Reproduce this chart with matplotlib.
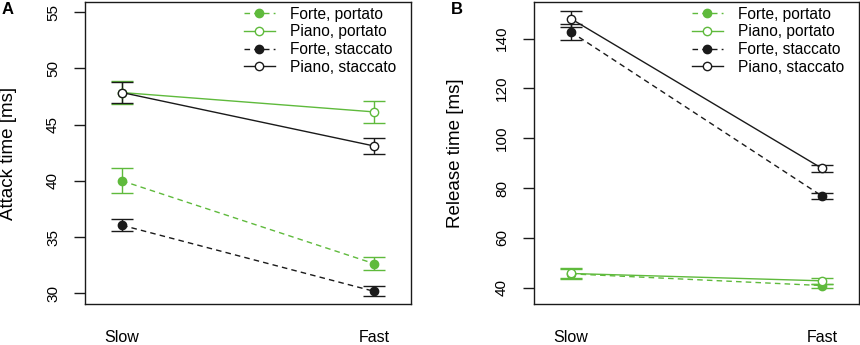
import matplotlib
matplotlib.use("Agg")
import matplotlib.pyplot as plt
import numpy as np

plt.rcParams['font.family'] = ['Liberation Sans', 'DejaVu Sans']

conditions = ["Slow", "Fast"]
series_names = ["Forte, portato", "Piano, portato", "Forte, staccato", "Piano, staccato"]

# Panel A: attack time [ms]
attack_fp = [40.0, 32.64]
attack_fp_se = [1.1, 0.55]
attack_pp = [47.85, 46.13]
attack_pp_se = [1.05, 0.95]
attack_fs = [36.05, 30.18]
attack_fs_se = [0.55, 0.45]
attack_ps = [47.85, 43.1]
attack_ps_se = [0.95, 0.75]

# Panel B: release time [ms]
release_fp = [45.6, 40.9]
release_fp_se = [1.8, 0.8]
release_pp = [45.75, 42.8]
release_pp_se = [2.2, 1.2]
release_fs = [142.7, 76.8]
release_fs_se = [3.2, 1.25]
release_ps = [148.0, 87.9]
release_ps_se = [3.2, 1.5]

attack_ticks = [30, 35, 40, 45, 50, 55]
release_ticks = [40, 60, 80, 100, 120, 140]

GREEN = '#5fba3c'
BLACK = '#1a1a1a'

styles = [
    dict(color=GREEN, ls=(0, (4, 3)), filled=True),
    dict(color=GREEN, ls='-', filled=False),
    dict(color=BLACK, ls=(0, (4, 3)), filled=True),
    dict(color=BLACK, ls='-', filled=False),
]

fig = plt.figure(figsize=(8.6, 3.45), dpi=100)
axA = fig.add_axes([85/860, 1-304/345, 326/860, 302/345])
axB = fig.add_axes([534/860, 1-304/345, 325/860, 302/345])

x = np.arange(1, len(conditions) + 1)


def draw(ax, data, ses, ylim, yticks, ylabel, panel, label_x):
    handles = []
    for vals, se, st, name in zip(data, ses, styles, series_names):
        ax.errorbar(x, vals, yerr=se, fmt='none', ecolor=st['color'],
                    elinewidth=1.0, capsize=8, capthick=1.0, zorder=2)
        h, = ax.plot(x, vals, color=st['color'], ls=st['ls'], lw=1.0,
                     marker='o', markersize=6,
                     markerfacecolor=st['color'] if st['filled'] else 'white',
                     markeredgecolor=st['color'], markeredgewidth=1.0,
                     label=name, zorder=3)
        handles.append(h)
    ax.set_xlim(0.853, 2.147)
    ax.set_ylim(*ylim)
    ax.set_yticks(yticks)
    ax.set_yticklabels([str(t) for t in yticks], rotation=90, va='center')
    ax.set_xticks(x)
    ax.set_xticklabels(conditions)
    ax.tick_params(axis='x', length=0, pad=19, labelsize=11.5)
    ax.tick_params(axis='y', length=8, width=1.0, pad=10, labelsize=11,
                   color=BLACK)
    for s in ax.spines.values():
        s.set_linewidth(1.0)
        s.set_color(BLACK)
    ax.set_ylabel(ylabel, fontsize=13.5)
    ax.yaxis.set_label_coords(label_x, 0.5)
    ax.yaxis.label.set_verticalalignment('center')
    ax.legend(handles=handles, loc='upper right', frameon=False,
              fontsize=11.2, handlelength=2.0, handletextpad=1.0,
              labelspacing=0.17, borderaxespad=0.0,
              bbox_to_anchor=(0.975, 1.005))
    fig.text(panel[1], 1 - 9/345, panel[0], fontsize=12, fontweight='bold',
             ha='left', va='center')


draw(axA, [attack_fp, attack_pp, attack_fs, attack_ps],
     [attack_fp_se, attack_pp_se, attack_fs_se, attack_ps_se],
     (29.05, 55.9), attack_ticks, 'Attack time [ms]', ('A', 2/860),
     (8.5 - 85) / 326)
draw(axB, [release_fp, release_pp, release_fs, release_ps],
     [release_fp_se, release_pp_se, release_fs_se, release_ps_se],
     (33.5, 154.7), release_ticks, 'Release time [ms]', ('B', 451/860),
     (456 - 534) / 325)

fig.savefig('out.png', dpi=100)
